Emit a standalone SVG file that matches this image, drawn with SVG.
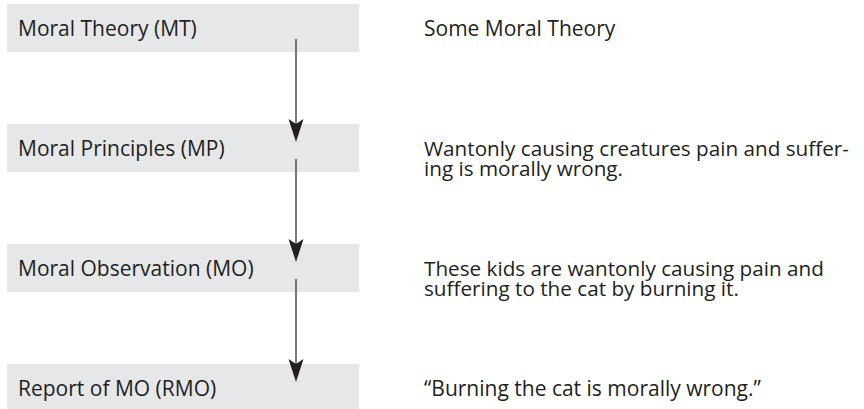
<svg xmlns="http://www.w3.org/2000/svg" width="864" height="409" viewBox="0 0 864 409">
<style>
.box{fill:#e6e7e8}
.t{font-family:"Open Sans","Noto Sans","Liberation Sans",sans-serif;font-size:21px;fill:#231f20}
.r{font-size:20.7px}
.ln{stroke:#58595b;stroke-width:1.6;fill:none}
.ah{fill:#231f20}
</style>
<rect width="864" height="409" fill="#fff"/>
<g id="mt"><rect class="box" x="7" y="4" width="352" height="48"/><text class="t" x="18" y="36">Moral Theory (MT)</text></g>
<g id="mp"><rect class="box" x="7" y="124" width="352" height="48"/><text class="t" x="18" y="156">Moral Principles (MP)</text></g>
<g id="mo"><rect class="box" x="7" y="244" width="352" height="48"/><text class="t" x="18" y="276">Moral Observation (MO)</text></g>
<g id="rmo"><rect class="box" x="7" y="364" width="352" height="45"/><text class="t" x="18" y="396">Report of MO (RMO)</text></g>
<g id="connectors">
<line class="ln" x1="296" y1="39" x2="296" y2="128"/>
<path class="ah" d="M288.5,119 L296,124 L303.5,119 L296,142 Z"/>
<line class="ln" x1="296" y1="159" x2="296" y2="248"/>
<path class="ah" d="M288.5,239 L296,244 L303.5,239 L296,262 Z"/>
<line class="ln" x1="296" y1="279" x2="296" y2="368"/>
<path class="ah" d="M288.5,359 L296,364 L303.5,359 L296,382 Z"/>
</g>
<g id="desc">
<text class="t" x="424" y="36">Some Moral Theory</text>
<text class="t r" x="424" y="156">Wantonly causing creatures pain and suffer-<tspan x="424" dy="20">ing is morally wrong.</tspan></text>
<text class="t r" x="424" y="276">These kids are wantonly causing pain and<tspan x="424" dy="20">suffering to the cat by burning it.</tspan></text>
<text class="t" x="424" y="396">“Burning the cat is morally wrong.”</text>
</g>
</svg>
